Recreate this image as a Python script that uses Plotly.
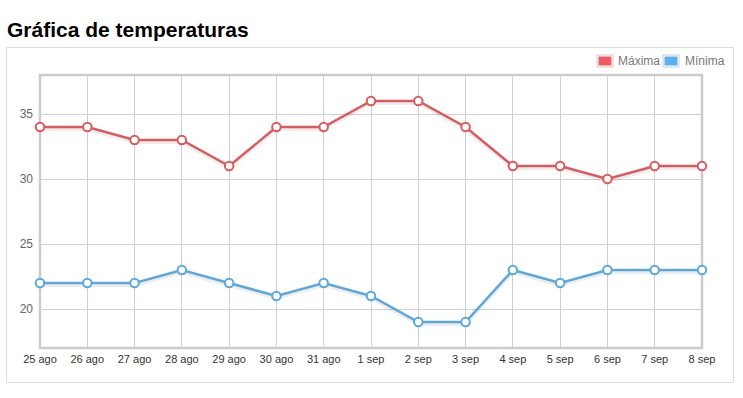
import plotly.graph_objects as go

dias = ["25 ago", "26 ago", "27 ago", "28 ago", "29 ago", "30 ago", "31 ago",
        "1 sep", "2 sep", "3 sep", "4 sep", "5 sep", "6 sep", "7 sep", "8 sep"]
maxima = [34, 34, 33, 33, 31, 34, 34, 36, 36, 34, 31, 31, 30, 31, 31]
minima = [22, 22, 22, 23, 22, 21, 22, 21, 19, 19, 23, 22, 23, 23, 23]
y_ticks = [20, 25, 30, 35]

RED = "#dc5a5e"
BLUE = "#5ba8df"
RED_SW = "#f05a60"
BLUE_SW = "#5cb0ef"

W, H = 743, 398
L, R, T, B = 40, 702, 75, 348
pw, ph = R - L, B - T

def px(x):
    return (x - L) / pw

def py(y):
    return (B - y) / ph

xs = list(range(len(dias)))
fig = go.Figure()

# shadows
for vals in (maxima, minima):
    fig.add_trace(go.Scatter(x=xs, y=[v - 0.17 for v in vals], mode="lines",
                             line=dict(color="rgba(0,0,0,0.07)", width=3.5),
                             hoverinfo="skip", showlegend=False))

for vals, col, name in ((maxima, RED, "Máxima"), (minima, BLUE, "Mínima")):
    fig.add_trace(go.Scatter(x=xs, y=vals, mode="lines+markers", name=name,
                             line=dict(color=col, width=2.5),
                             marker=dict(size=8.5, color="white", line=dict(color=col, width=2)),
                             showlegend=False, cliponaxis=False))

shapes = []
# outer box
shapes.append(dict(type="rect", xref="paper", yref="paper",
                   x0=px(6.5), x1=px(733.5), y0=py(382.5), y1=py(47.5),
                   line=dict(color="#dddddd", width=1), layer="below"))
# plot border
shapes.append(dict(type="rect", xref="paper", yref="paper",
                   x0=0, x1=1, y0=0, y1=1,
                   line=dict(color="#cccccc", width=2.5), layer="below"))
# legend swatches
for x0, col in ((597, RED_SW), (663, BLUE_SW)):
    shapes.append(dict(type="rect", xref="paper", yref="paper",
                       x0=px(x0), x1=px(x0 + 16), y0=py(67), y1=py(55),
                       line=dict(color="#cccccc", width=1), fillcolor="white"))
    shapes.append(dict(type="rect", xref="paper", yref="paper",
                       x0=px(x0 + 1.5), x1=px(x0 + 14.5), y0=py(65.5), y1=py(56.5),
                       line=dict(width=0), fillcolor=col))

annotations = [
    dict(text="<b>Gráfica de temperaturas</b>", xref="paper", yref="paper",
         x=px(5), y=py(30), xanchor="left", yanchor="middle", showarrow=False,
         font=dict(family="Liberation Sans, Arial", size=21, color="#000000")),
    dict(text="Máxima", xref="paper", yref="paper", x=px(616), y=py(61.5),
         xanchor="left", yanchor="middle", showarrow=False,
         font=dict(family="Liberation Sans, Arial", size=12, color="#777777")),
    dict(text="Mínima", xref="paper", yref="paper", x=px(683), y=py(61.5),
         xanchor="left", yanchor="middle", showarrow=False,
         font=dict(family="Liberation Sans, Arial", size=12, color="#777777")),
]

fig.update_layout(
    width=W, height=H,
    margin=dict(l=L, r=W - R, t=T, b=H - B, pad=0),
    paper_bgcolor="white", plot_bgcolor="white",
    shapes=shapes, annotations=annotations,
    showlegend=False,
    font=dict(family="Liberation Sans, Arial", size=11, color="#555555"),
)
fig.update_xaxes(range=[0, len(dias) - 1], tickmode="array", tickvals=xs, ticktext=dias,
                 showgrid=True, gridcolor="#d0d0d0", gridwidth=1, zeroline=False,
                 showline=False, ticks="", ticklabelstandoff=3,
                 tickfont=dict(size=11, color="#333333"))
fig.update_yaxes(range=[17, 38], tickmode="array", tickvals=y_ticks,
                 showgrid=True, gridcolor="#d0d0d0", gridwidth=1, zeroline=False,
                 showline=False, ticks="", ticklabelstandoff=6,
                 tickfont=dict(size=12, color="#666666"))

fig.write_html("out.html", config={"displayModeBar": False})
with open("out.html", encoding="utf-8") as f:
    html = f.read()
html = html.replace("<body>", '<body style="margin:0;padding:0;overflow:hidden">', 1)
with open("out.html", "w", encoding="utf-8") as f:
    f.write(html)
